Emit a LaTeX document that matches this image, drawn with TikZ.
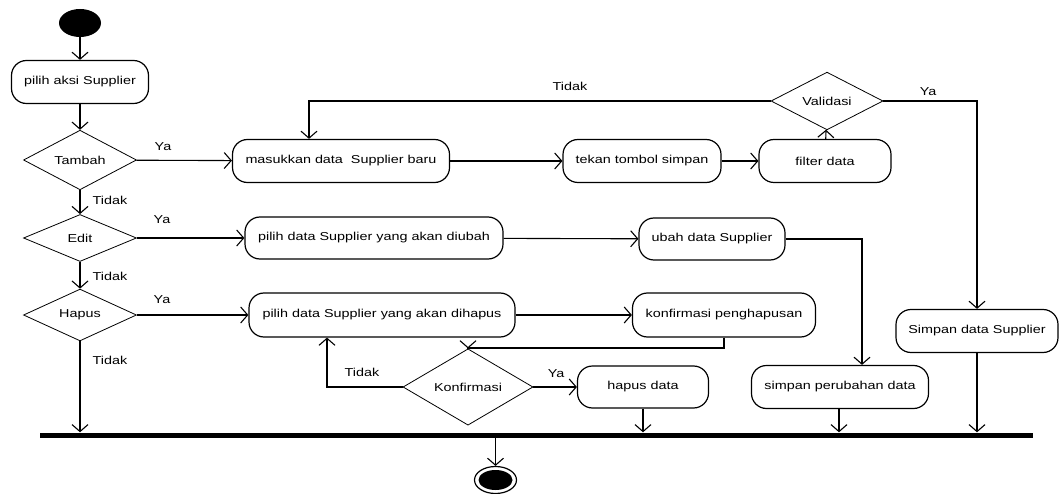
\documentclass[tikz,border=0pt]{standalone}
\usepackage{fontspec}
\setmainfont{Liberation Sans}[FakeStretch=1.25]
\usetikzlibrary{arrows.meta,shapes.geometric}
\begin{document}
\begin{tikzpicture}[x=1pt,y=-1pt,
  every node/.style={font=\fontsize{11.5}{13}\selectfont},
  act/.style={draw,line width=1.2pt,rounded corners=15pt,inner sep=0pt},
  dec/.style={draw,diamond,line width=0.8pt,inner sep=0pt},
  lbl/.style={inner sep=0pt},
  flow/.style={line width=1.1pt,-{Straight Barb[length=7pt,width=16pt,line width=1.1pt]}},
  link/.style={line width=1.1pt}]
\useasboundingbox (0,0) rectangle (1062,494);
% start / end
\node[ellipse,fill=black,minimum width=42pt,minimum height=28pt,inner sep=0pt] (start) at (80,23) {};
\node[ellipse,draw,line width=1.2pt,minimum width=42pt,minimum height=27pt,inner sep=0pt] (end) at (495.5,480) {};
\fill[black] (end.center) ellipse [x radius=17pt,y radius=10pt];
% bar
\node[fill=black,minimum width=993pt,minimum height=5pt,inner sep=0pt] (bar) at (536.5,435) {};
% actions
\node[act,minimum width=137pt,minimum height=43pt] (aksi) at (80,82) {pilih aksi Supplier};
\node[act,minimum width=217pt,minimum height=43pt] (masuk) at (341,161) {masukkan data\ \ Supplier baru};
\node[act,minimum width=158pt,minimum height=43pt] (tekan) at (642,161) {tekan tombol simpan};
\node[act,minimum width=132pt,minimum height=43pt] (filter) at (825,161) {filter data};
\node[act,minimum width=258pt,minimum height=42pt] (ubahpilih) at (374,238) {pilih data Supplier yang akan diubah};
\node[act,minimum width=146pt,minimum height=42pt] (ubah) at (712,239) {ubah data Supplier};
\node[act,minimum width=266pt,minimum height=44pt] (hapuspilih) at (382,315) {pilih data Supplier yang akan dihapus};
\node[act,minimum width=183pt,minimum height=44pt] (konfpeng) at (724,315) {konfirmasi penghapusan};
\node[act,minimum width=131pt,minimum height=42pt] (hapusdata) at (643,387) {hapus data};
\node[act,minimum width=177pt,minimum height=43pt] (simpanubah) at (840,387) {simpan perubahan data};
\node[act,minimum width=162pt,minimum height=43pt] (simpansup) at (977,331) {Simpan data Supplier};
% decisions
\node[dec,minimum width=113pt,minimum height=46pt] (tambah) at (80,160) {Tambah};
\node[dec,minimum width=113pt,minimum height=47pt] (edit) at (80,238) {Edit};
\node[dec,minimum width=113pt,minimum height=46pt] (hapus) at (80,315) {Hapus};
\node[dec,minimum width=112pt,minimum height=48pt] (valid) at (827,101) {Validasi};
\node[dec,minimum width=130pt,minimum height=51pt] (konf) at (468,387) {Konfirmasi};
% connectors
\draw[flow] (start) -- (aksi);
\draw[flow] (aksi) -- (tambah);
\draw[flow] (tambah) -- (masuk);
\draw[flow] (tambah) -- (edit);
\draw[flow] (edit) -- (ubahpilih);
\draw[flow] (edit) -- (hapus);
\draw[flow] (hapus) -- (hapuspilih);
\draw[flow] (hapus) -- (hapus.south |- bar.north);
\draw[flow] (masuk) -- (tekan);
\draw[flow] (tekan) -- (filter);
\draw[flow] (filter) -- (valid);
\coordinate (vl) at (309,101);
\draw[flow] (valid.west) -- (vl) -- (vl |- masuk.north);
\coordinate (vr) at (977,101);
\draw[flow] (valid.east) -- (vr) -- (simpansup.north);
\draw[flow] (simpansup) -- (simpansup.south |- bar.north);
\draw[flow] (ubahpilih) -- (ubah);
\coordinate (ur) at (862,239);
\draw[flow] (ubah.east) -- (ur) -- (ur |- simpanubah.north);
\coordinate (sb) at (839,408);
\draw[flow] (sb |- simpanubah.south) -- (sb |- bar.north);
\draw[flow] (hapuspilih) -- (konfpeng);
\coordinate (kp) at (724,348);
\draw[flow] (kp |- konfpeng.south) -- (kp) -- (konf.north |- kp) -- (konf.north);
\coordinate (kl) at (327,387);
\draw[flow] (konf.west) -- (kl) -- (kl |- hapuspilih.south);
\draw[flow] (konf) -- (hapusdata);
\draw[flow] (hapusdata) -- (hapusdata.south |- bar.north);
\draw[flow] (end.north |- bar.south) -- (end.north);
% labels
\node[lbl] (l1) at (163,147) {Ya};
\node[lbl] (l2) at (110,200) {Tidak};
\node[lbl] (l3) at (162,220) {Ya};
\node[lbl] (l4) at (110,276) {Tidak};
\node[lbl] (l5) at (162,300) {Ya};
\node[lbl] (l6) at (110,360) {Tidak};
\node[lbl] (l7) at (570,86) {Tidak};
\node[lbl] (l8) at (928,92) {Ya};
\node[lbl] (l9) at (362,372) {Tidak};
\node[lbl] (l10) at (556,374) {Ya};
\end{tikzpicture}
\end{document}
